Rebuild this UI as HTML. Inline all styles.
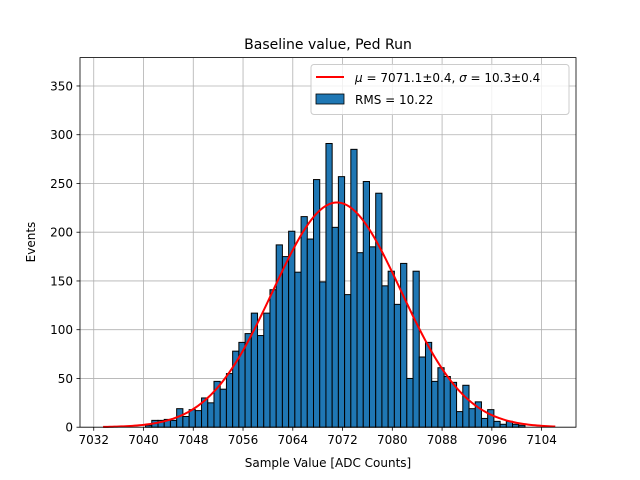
<!DOCTYPE html>
<html><head><meta charset="utf-8">
<style>
body{margin:0;background:#fff;}
svg{display:block;font-family:"DejaVu Sans","Liberation Sans",sans-serif;}
</style></head>
<body>
<svg id="chart" width="640" height="480" viewBox="0 0 640 480">
<g id="grid"></g>
<g id="bars"></g>
<g id="fit"></g>
<rect x="80" y="57.6" width="496" height="369.6" fill="none" stroke="#000" stroke-width="0.8"/>
<g id="xticks"></g>
<g id="yticks"></g>
<text x="328" y="49" text-anchor="middle" font-size="14">Baseline value, Ped Run</text>
<text x="328" y="467" text-anchor="middle" font-size="12">Sample Value [ADC Counts]</text>
<text x="35" y="242" text-anchor="middle" font-size="12" transform="rotate(-90 35 242)">Events</text>
<g>
<rect x="311" y="64.5" width="258" height="50" rx="3" fill="#fff" fill-opacity="0.8" stroke="#ccc"/>
<line x1="316" y1="77" x2="344" y2="77" stroke="red" stroke-width="2"/>
<text x="355" y="82" font-size="12"><tspan font-style="italic">μ</tspan> = 7071.1±0.4, <tspan font-style="italic">σ</tspan> = 10.3±0.4</text>
<rect x="316" y="94" width="28" height="10" fill="#1f77b4" stroke="#000" stroke-width="0.8"/>
<text x="355" y="104" font-size="12">RMS = 10.22</text>
</g>
</svg>
<script>
const binStart = 7040.33;
const binWidth = 1;
const counts = [2,7,7,8,7,19,11,18,17,30,25,47,39,55,78,87,96,117,94,117,141,187,175,201,159,216,193,254,149,291,205,257,136,285,179,252,185,240,145,160,126,168,50,160,72,87,47,61,52,46,16,43,19,26,9,18,6,3,6,3,2];
const xTicks = [7032,7040,7048,7056,7064,7072,7080,7088,7096,7104];
const yTicks = [0,50,100,150,200,250,300,350];
const fitAmp = 230.5, fitMu = 7071.1, fitSigma = 10.3;
const fitRange = [7033.5, 7106.2];

const X0=80,X1=576,Y0=427.2,Y1=57.6;
const xmin=7029.79,xmax=7109.53,ymin=0,ymax=379.1;
const sx=v=>X0+(v-xmin)/(xmax-xmin)*(X1-X0);
const sy=v=>Y0-(v-ymin)/(ymax-ymin)*(Y0-Y1);
const NS='http://www.w3.org/2000/svg';
function mk(tag,attrs,parent){const e=document.createElementNS(NS,tag);for(const k in attrs)e.setAttribute(k,attrs[k]);parent.appendChild(e);return e;}
const grid=document.getElementById('grid'),bars=document.getElementById('bars'),fit=document.getElementById('fit'),xt=document.getElementById('xticks'),yt=document.getElementById('yticks');
xTicks.forEach(t=>{const x=sx(t);
 const g=mk('line',{x1:x,x2:x,y1:Y1,y2:Y0,stroke:'#b0b0b0','stroke-width':0.8},grid);
 
 
 const tk=mk('line',{x1:x,x2:x,y1:Y0,y2:Y0+3.5,stroke:'#000','stroke-width':0.8},xt);
 
 
 const lb=mk('text',{x:x,y:Y0+17,'text-anchor':'middle','font-size':12},xt);lb.textContent=t;
 
 
});
yTicks.forEach(t=>{const y=sy(t);
 const g=mk('line',{x1:X0,x2:X1,y1:y,y2:y,stroke:'#b0b0b0','stroke-width':0.8},grid);
 
 
 const tk=mk('line',{x1:X0-3.5,x2:X0,y1:y,y2:y,stroke:'#000','stroke-width':0.8},yt);
 
 
 const lb=mk('text',{x:X0-7,y:y+4.5,'text-anchor':'end','font-size':12},yt);lb.textContent=t;
 
 
});
counts.forEach((c,i)=>{const a=binStart+i*binWidth,b=a+binWidth;
 const r=mk('rect',{x:sx(a),y:sy(c),width:sx(b)-sx(a),height:sy(0)-sy(c),fill:'#1f77b4',stroke:'#000','stroke-width':1},bars);
 
 
});
let d='';const n=200;
for(let i=0;i<=n;i++){const v=fitRange[0]+(fitRange[1]-fitRange[0])*i/n;const y=fitAmp*Math.exp(-0.5*Math.pow((v-fitMu)/fitSigma,2));d+=(i?'L':'M')+sx(v).toFixed(2)+','+sy(y).toFixed(2);}
const p=mk('path',{d:d,fill:'none',stroke:'red','stroke-width':2},fit);


</script>
</body></html>
